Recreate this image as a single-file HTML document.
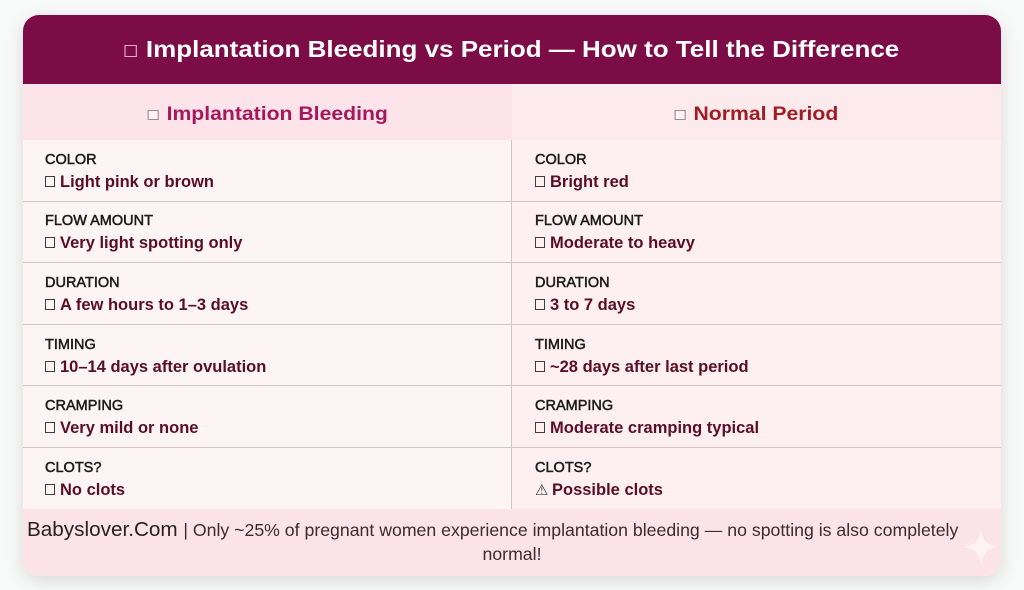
<!DOCTYPE html>
<html>
<head>
<meta charset="utf-8">
<style>
  html,body{margin:0;padding:0;}
  body{width:1024px;height:590px;background:#f8f9f9;position:relative;overflow:hidden;
       font-family:"Liberation Sans",Arial,sans-serif;}
  .card{position:absolute;left:23px;top:15px;width:978px;height:561px;border-radius:16px;
        overflow:hidden;background:#fdf4f5;box-shadow:0 5px 18px rgba(0,0,0,0.13);}
  .hdr{position:absolute;left:0;top:0;width:978px;height:69px;background:#7b0c46;}
  .title{position:absolute;left:0;top:23px;width:978px;text-align:center;
         font-size:23px;line-height:23px;font-weight:bold;color:#fff;white-space:nowrap;}
  .sx{display:inline-block;transform:scaleX(1.13);}
  .tbox{display:inline-block;width:11px;height:12px;border:1.5px solid #e7a9c7;box-sizing:border-box;
        margin-right:8px;vertical-align:baseline;}
  .ch{position:absolute;top:69px;height:56px;width:489px;}
  .chl{left:0;background:#fde3ea;}
  .chr{left:489px;background:#fdeaec;}
  .cht{position:absolute;left:0;top:20.6px;width:100%;text-align:center;font-size:19px;line-height:19px;
       font-weight:bold;white-space:nowrap;}
  .sx2{display:inline-block;transform:scaleX(1.115);}
  .hbox{display:inline-block;width:10px;height:10px;border:1px solid #9b8c92;background:#fdf2f5;
        box-sizing:border-box;margin-right:7px;vertical-align:baseline;}
  .cell{position:absolute;}
  .cl{left:0;width:489px;background:#fdf4f5;}
  .cr{left:489px;width:489px;background:#fef0f0;}
  .line{position:absolute;left:0;width:978px;height:1px;background:#d2c3c8;}
  .vdiv{position:absolute;left:488px;top:125px;width:1px;height:369px;background:#d2c3c8;}
  .lab{position:absolute;font-size:14.5px;line-height:14.5px;color:#1c1c1c;white-space:nowrap;
       -webkit-text-stroke:0.5px #1c1c1c;}
  .val{position:absolute;font-size:16.5px;line-height:16.5px;font-weight:bold;color:#5a0d24;white-space:nowrap;}
  .vbox{display:inline-block;width:10px;height:11px;border:1.3px solid #3d3d3d;box-sizing:border-box;
        margin-right:5px;vertical-align:baseline;}
  .warn{display:inline-block;width:15px;margin-right:2px;font-family:"DejaVu Sans",sans-serif;
        font-weight:normal;font-size:15px;color:#3a3a3a;}
  .foot{position:absolute;left:0;top:494px;width:978px;height:67px;background:#fce3ea;}
  .f1{position:absolute;left:4px;top:9.2px;font-size:17.7px;line-height:24px;color:#3d2a31;white-space:nowrap;}
  .f1 .brand{font-size:20.7px;color:#232323;}
  .f2{position:absolute;left:0;top:33px;width:978px;text-align:center;font-size:17.7px;line-height:24px;color:#3d2a31;}
  .spark{position:absolute;left:940px;top:20px;}
</style>
</head>
<body>
<div class="card">
  <div class="hdr"></div>
  <div class="title"><span class="sx"><span class="tbox"></span>Implantation Bleeding vs Period — How to Tell the Difference</span></div>

  <div class="ch chl"><div class="cht" style="color:#a5195b;"><span class="sx2"><span class="hbox"></span>Implantation Bleeding</span></div></div>
  <div class="ch chr"><div class="cht" style="color:#a11d25;"><span class="sx2"><span class="hbox"></span>Normal Period</span></div></div>

  <!-- row backgrounds -->
  <div class="cell cl" style="top:125px;height:62px;"></div><div class="cell cr" style="top:125px;height:62px;"></div>
  <div class="cell cl" style="top:187px;height:61px;"></div><div class="cell cr" style="top:187px;height:61px;"></div>
  <div class="cell cl" style="top:248px;height:62px;"></div><div class="cell cr" style="top:248px;height:62px;"></div>
  <div class="cell cl" style="top:310px;height:61px;"></div><div class="cell cr" style="top:310px;height:61px;"></div>
  <div class="cell cl" style="top:371px;height:62px;"></div><div class="cell cr" style="top:371px;height:62px;"></div>
  <div class="cell cl" style="top:433px;height:61px;"></div><div class="cell cr" style="top:433px;height:61px;"></div>

  <div class="line" style="top:186px;"></div>
  <div class="line" style="top:247px;"></div>
  <div class="line" style="top:309px;"></div>
  <div class="line" style="top:370px;"></div>
  <div class="line" style="top:432px;"></div>
  <div class="vdiv"></div>

  <!-- row 1 -->
  <div class="lab" style="left:22px;top:137.7px;">COLOR</div>
  <div class="val" style="left:22px;top:158.8px;"><span class="vbox"></span>Light pink or brown</div>
  <div class="lab" style="left:512px;top:137.7px;">COLOR</div>
  <div class="val" style="left:512px;top:158.8px;"><span class="vbox"></span>Bright red</div>
  <!-- row 2 -->
  <div class="lab" style="left:22px;top:199.3px;">FLOW AMOUNT</div>
  <div class="val" style="left:22px;top:220.4px;"><span class="vbox"></span>Very light spotting only</div>
  <div class="lab" style="left:512px;top:199.3px;">FLOW AMOUNT</div>
  <div class="val" style="left:512px;top:220.4px;"><span class="vbox"></span>Moderate to heavy</div>
  <!-- row 3 -->
  <div class="lab" style="left:22px;top:260.9px;">DURATION</div>
  <div class="val" style="left:22px;top:282px;"><span class="vbox"></span>A few hours to 1–3 days</div>
  <div class="lab" style="left:512px;top:260.9px;">DURATION</div>
  <div class="val" style="left:512px;top:282px;"><span class="vbox"></span>3 to 7 days</div>
  <!-- row 4 -->
  <div class="lab" style="left:22px;top:322.5px;">TIMING</div>
  <div class="val" style="left:22px;top:343.6px;"><span class="vbox"></span>10–14 days after ovulation</div>
  <div class="lab" style="left:512px;top:322.5px;">TIMING</div>
  <div class="val" style="left:512px;top:343.6px;"><span class="vbox"></span>~28 days after last period</div>
  <!-- row 5 -->
  <div class="lab" style="left:22px;top:384.1px;">CRAMPING</div>
  <div class="val" style="left:22px;top:405.2px;"><span class="vbox"></span>Very mild or none</div>
  <div class="lab" style="left:512px;top:384.1px;">CRAMPING</div>
  <div class="val" style="left:512px;top:405.2px;"><span class="vbox"></span>Moderate cramping typical</div>
  <!-- row 6 -->
  <div class="lab" style="left:22px;top:445.7px;">CLOTS?</div>
  <div class="val" style="left:22px;top:466.8px;"><span class="vbox"></span>No clots</div>
  <div class="lab" style="left:512px;top:445.7px;">CLOTS?</div>
  <div class="val" style="left:512px;top:466.8px;"><span class="warn">⚠</span>Possible clots</div>

  <div class="foot">
    <div class="f1"><span class="brand">Babyslover.Com </span>| Only ~25% of pregnant women experience implantation bleeding — no spotting is also completely</div>
    <div class="f2">normal!</div>
    <svg class="spark" width="36" height="36" viewBox="0 0 36 36">
      <path d="M18 0 C19.5 12 24 16.5 36 18 C24 19.5 19.5 24 18 36 C16.5 24 12 19.5 0 18 C12 16.5 16.5 12 18 0 Z" fill="#fff" fill-opacity="0.55"/>
    </svg>
  </div>
</div>
</body>
</html>
